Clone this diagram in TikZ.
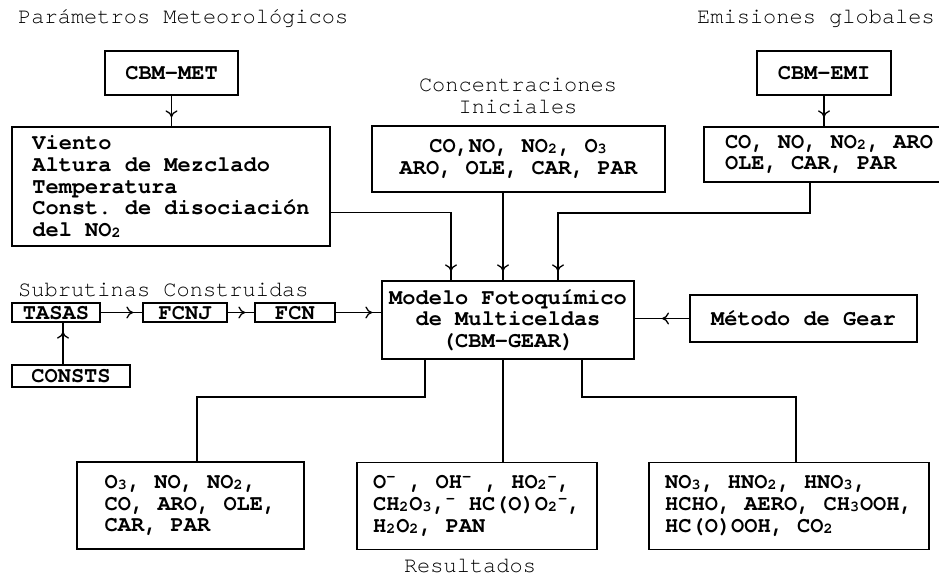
\documentclass[tikz,border=0pt]{standalone}
\usepackage{fontspec}
\setmainfont{TeX Gyre Cursor}
\usetikzlibrary{arrows.meta}
\usetikzlibrary{decorations.markings}

\newcommand{\sbs}[1]{\raisebox{-1pt}{\fontsize{15}{15}\selectfont #1}\kern1pt}
\newcommand{\rad}{\textsuperscript{-}}

\tikzset{
  txt/.style={font=\fontsize{22}{21.7}\selectfont\frenchspacing, inner sep=0pt},
  box/.style={draw, line width=1.3pt, font=\fontsize{22}{21.7}\selectfont\bfseries\frenchspacing, inner sep=0pt},
  small/.style={box, text height=14pt, text depth=1pt},
  conn/.style={line width=1.3pt},
  arr/.style={conn, postaction={decorate},
    decoration={markings, mark=at position #1 with {\arrow{To[length=7pt,width=12pt]}}}},
  arr/.default=-9pt
}

\begin{document}
\begin{tikzpicture}[x=1pt,y=-1pt]
\useasboundingbox (0,0) rectangle (939,578);
\clip (0,0) rectangle (939,578);
% entradas
\node (param) at (18,19) [txt,anchor=west] {Parámetros Meteorológicos};
\node (emisl) at (935,19) [txt,anchor=east] {Emisiones globales};
\node (met) at (171.5,73) [box,minimum width=133pt,minimum height=44pt] {CBM-MET};
\node (emi) at (824,73) [box,minimum width=134pt,minimum height=44pt] {CBM-EMI};
\node (metdat) at (171,186.5) [box,align=left,minimum width=318pt,minimum height=119pt] {Viento\\Altura de Mezclado\\Temperatura\\Const. de disociación\\del NO\sbs{2}};
\node (concl) at (518,96) [txt,align=center] {Concentraciones\\Iniciales};
\node (conc) at (518.5,159) [box,align=center,minimum width=293pt,minimum height=66pt] {CO,NO, NO\sbs{2}, O\sbs{3}\\ARO, OLE, CAR, PAR};
\node (emidat) at (829,154.5) [box,align=left,minimum width=250pt,minimum height=55pt] {CO, NO, NO\sbs{2}, ARO\\OLE, CAR, PAR};
% modelo
\node (model) at (508,320) [box,align=center,minimum width=252pt,minimum height=78pt] {Modelo Fotoquímico\\de Multiceldas\\(CBM-GEAR)};
\node (gear) at (803.5,318.5) [box,minimum width=227pt,minimum height=47pt] {Método de Gear};
% subrutinas
\node (subl) at (18,290) [txt,anchor=west] {Subrutinas Construidas};
\node (tasas) at (56,312.5) [small,minimum width=88pt,minimum height=19pt] {TASAS};
\node (fcnj) at (185,312.5) [small,minimum width=84pt,minimum height=19pt] {FCNJ};
\node (fcn) at (295,312.5) [small,minimum width=80pt,minimum height=19pt] {FCN};
\node (consts) at (71,376) [small,minimum width=118pt,minimum height=22pt] {CONSTS};
% resultados
\node (res1) at (190.5,505.5) [box,align=left,minimum width=227pt,minimum height=87pt] {O\sbs{3}, NO, NO\sbs{2},\\CO, ARO, OLE,\\CAR, PAR};
\node (res2) at (477,506) [box,align=left,minimum width=240pt,minimum height=87pt] {O\rad{} , OH\rad{} , HO\sbs{2}\rad,\\CH\sbs{2}O\sbs{3},\rad{} HC(O)O\sbs{2}\rad,\\H\sbs{2}O\sbs{2}, PAN};
\node (res3) at (789,506) [box,align=left,minimum width=280pt,minimum height=87pt] {NO\sbs{3}, HNO\sbs{2}, HNO\sbs{3},\\HCHO, AERO, CH\sbs{3}OOH,\\HC(O)OOH, CO\sbs{2}};
\node (resl) at (470,566) [txt] {Resultados};
% puntos de quiebre
\coordinate (kmet) at (330,212.5);
\coordinate (emiout) at (810,182);
\coordinate (kemi) at (810,213);
\coordinate (bl) at (197,397);
\coordinate (br) at (796,397);
% flechas
\draw[arr] (met.south) -- (met.south |- metdat.north);
\draw[arr] (emi.south) -- (emi.south |- emidat.north);
\draw[arr] (kmet) -| ([xshift=-57pt]model.north);
\draw[arr] ([xshift=-5pt]model.north |- conc.south) -- ([xshift=-5pt]model.north);
\draw[arr] (emiout) -- (kemi) -| ([xshift=50pt]model.north);
\draw[arr=0.5] (gear.west) -- (gear.west -| model.east);
\draw[arr] (tasas.east) -- (fcnj.west);
\draw[arr] (fcnj.east) -- (fcn.west);
\draw[arr] (fcn.east) -- (fcn.east -| model.west);
\draw[arr] ([xshift=-8pt]consts.north) -- ([xshift=-8pt]consts.north |- tasas.south);
\draw[conn] ([xshift=-83pt]model.south) |- (bl) -- (bl |- res1.north);
\draw[conn] ([xshift=-5pt]model.south) -- ([xshift=-5pt]model.south |- res2.north);
\draw[conn] ([xshift=74pt]model.south) |- (br) -- (br |- res3.north);
\end{tikzpicture}
\end{document}
